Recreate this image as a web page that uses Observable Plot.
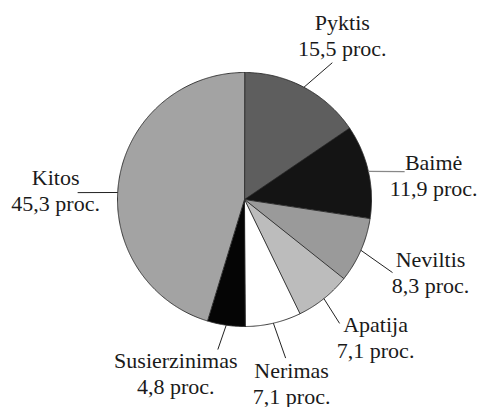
<!DOCTYPE html>
<html>
<head>
<meta charset="utf-8">
<script src="https://cdn.jsdelivr.net/npm/d3@7"></script>
<script src="https://cdn.jsdelivr.net/npm/@observablehq/plot@0.6"></script>
<style>
  html, body { margin: 0; padding: 0; background: #fff; }
  #chart svg { display: block; }
</style>
</head>
<body>
<div id="chart"></div>
<script>
// ---- data ----
const categories = ["Pyktis", "Baimė", "Neviltis", "Apatija", "Nerimas", "Susierzinimas", "Kitos"];
const values = [15.5, 11.9, 8.3, 7.1, 7.1, 4.8, 45.3];
const unit = "proc.";

// ---- styles / layout ----
const colors = ["#5e5e5e", "#141414", "#9a9a9a", "#bcbcbc", "#ffffff", "#050505", "#a3a3a3"];
const leaderColors = ["#222", "#888", "#222", "#222", "#222", "#222", "#222"];
// [start angle offset (deg), end angle offset (deg), end radius (x R), text dx (px), text dy (px)]
const labelLayout = [
  [0, 4.8, 1.28, 10, -28],
  [0, 2.9, 1.28, 29, 3],
  [0, 2.7, 1.30, 38, -1],
  [0, 1.2, 1.23, 36, 13],
  [0, -1.4, 1.29, 6, 25],
  [0, 1.8, 1.20, -42, 23],
  [-5.3, -6.1, 1.315, -22, -3]
];
const W = 479, H = 407, CX = 244, CY = 199, R = 127;

// ---- derived geometry (unit circle, angles clockwise from top) ----
const total = d3.sum(values);
const rad = d => d * Math.PI / 180;
let acc = 0;
const slices = categories.map((name, i) => {
  const a0 = acc / total * 360;
  acc += values[i];
  const a1 = acc / total * 360;
  return {name, value: values[i], a0, a1, mid: (a0 + a1) / 2, i};
});
const polygonPts = [];
for (const s of slices) {
  polygonPts.push({name: s.name, x: 0, y: 0});
  const n = Math.max(2, Math.ceil((s.a1 - s.a0) / 0.5));
  for (let k = 0; k <= n; k++) {
    const a = rad(s.a0 + (s.a1 - s.a0) * k / n);
    polygonPts.push({name: s.name, x: Math.sin(a), y: Math.cos(a)});
  }
}
const fmt = v => v.toFixed(1).replace(".", ",") + " " + unit;
const labels = slices.map(s => {
  const [sa, ea, er, tdx, tdy] = labelLayout[s.i];
  const as = rad(s.mid + sa), ae = rad(s.mid + ea);
  const x2 = er * Math.sin(ae), y2 = er * Math.cos(ae);
  return {
    name: s.name,
    x1: Math.sin(as), y1: Math.cos(as),
    x2, y2,
    tx: x2 + tdx / R, ty: y2 - tdy / R,
    text: s.name + "\n" + fmt(s.value),
    leader: leaderColors[s.i]
  };
});

const chart = Plot.plot({
  width: W,
  height: H,
  margin: 0,
  x: {domain: [-CX / R, (W - CX) / R], axis: null},
  y: {domain: [-(H - CY) / R, CY / R], axis: null},
  color: {domain: categories, range: colors},
  style: {background: "#fff"},
  marks: [
    Plot.line(polygonPts, {x: "x", y: "y", z: "name", fill: "name", curve: "linear-closed",
      stroke: "#2a2a2a", strokeWidth: 0.9, strokeLinejoin: "round"}),
    Plot.link(labels.filter(d => d.leader === "#222"), {x1: "x1", y1: "y1", x2: "x2", y2: "y2", stroke: "#222", strokeWidth: 1}),
    Plot.link(labels.filter(d => d.leader !== "#222"), {x1: "x1", y1: "y1", x2: "x2", y2: "y2", stroke: "#888", strokeWidth: 1.3}),
    Plot.text(labels, {x: "tx", y: "ty", text: "text", textAnchor: "middle", lineAnchor: "middle",
      lineHeight: 26 / 22, fontSize: 22, fontFamily: "Liberation Serif", fill: "#1a1a1a"})
  ]
});
document.getElementById("chart").appendChild(chart);
</script>
</body>
</html>
